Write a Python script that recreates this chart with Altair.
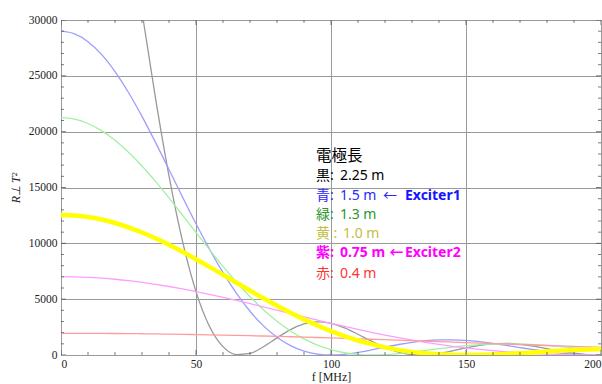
import altair as alt
import pandas as pd

# Frequency grid [MHz]
F_MHZ = list(range(0, 205, 5))

# R_perp * T^2 for each electrode length
L_225 = [63000, 61850, 58480, 53170, 46420, 38750, 30750, 23010, 16040, 10190,
         5680, 2560, 752, 42, 142, 738, 1532, 2271, 2780, 2972,
         2837, 2433, 1862, 1240, 680, 266, 41, 9, 138, 369,
         631, 858, 1002, 1036, 958, 791, 573, 350, 162, 41, 0]
L_150 = [29000, 28760, 28060, 26920, 25380, 23510, 21370, 19040, 16610, 14150,
         11750, 9480, 7380, 5520, 3920, 2610, 1590, 840, 346, 80,
         0, 65, 232, 458, 705, 940, 1138, 1280, 1356, 1363,
         1306, 1193, 1038, 857, 666, 480, 313, 177, 78, 19, 0]
L_130 = [21250, 21120, 20730, 20090, 19230, 18160, 16930, 15550, 14070, 12530,
         10970, 9430, 7930, 6520, 5220, 4050, 3020, 2150, 1440, 880,
         474, 202, 51, 0, 31, 123, 255, 408, 564, 710,
         834, 927, 985, 1005, 988, 934, 854, 753, 640, 520, 401]
L_100 = [12540, 12490, 12360, 12130, 11820, 11440, 10970, 10450, 9870, 9240,
         8580, 7890, 7180, 6470, 5770, 5080, 4420, 3790, 3190, 2640,
         2140, 1700, 1300, 968, 686, 457, 280, 150, 63, 15,
         0, 13, 48, 100, 164, 233, 305, 374, 437, 492, 536]
L_075 = [7010, 6996, 6953, 6882, 6782, 6657, 6507, 6332, 6135, 5916,
         5682, 5431, 5165, 4889, 4603, 4311, 4015, 3718, 3422, 3129,
         2841, 2561, 2290, 2031, 1785, 1552, 1335, 1134, 949, 781,
         632, 499, 383, 285, 203, 136, 84, 45, 19, 5, 0]
L_040 = [1943, 1942, 1938, 1933, 1925, 1915, 1902, 1888, 1871, 1853,
         1832, 1810, 1785, 1758, 1730, 1700, 1669, 1636, 1602, 1566,
         1529, 1491, 1452, 1412, 1371, 1329, 1287, 1244, 1201, 1157,
         1113, 1069, 1025, 981, 938, 894, 851, 809, 767, 725, 685]

THIN_SERIES = ["2.25 m", "1.5 m", "1.3 m", "0.75 m", "0.4 m"]
THIN_VALUES = [L_225, L_150, L_130, L_075, L_040]
THIN_COLORS = ["#999999", "#9d9dff", "#a3f0a3", "#ff9dff", "#ff9d9d"]
THICK_COLOR = "#ffff00"

# Annotation block: each line is split into its colour key, value and pointer
TEXT_FONT = "Noto Sans, Noto Sans CJK JP"
BLACK_T, BLUE_T, GREEN_T = "#000000", "#2a2af5", "#2a962a"
YELLOW_T, MAGENTA_T, RED_T = "#c2c043", "#ff00ff", "#ff3333"
BLUE_B = "#1414ff"

NOTE_TEXT = ["電極長",
             "黒:", "2.25 m",
             "青:", "1.5 m", "←",
             "緑:", "1.3 m",
             "黄 :", "1.0 m",
             "赤:", "0.4 m"]
NOTE_X = [94.4,
          94.4, 103.3,
          94.4, 103.3, 119.3,
          94.4, 103.3,
          94.4, 104.4,
          94.4, 103.3]
NOTE_Y = [17850,
          16000, 16000,
          14240, 14240, 14240,
          12540, 12540,
          10840, 10840,
          7250, 7250]
NOTE_COLOR = [BLACK_T,
              BLACK_T, BLACK_T,
              BLUE_T, BLUE_T, BLUE_T,
              GREEN_T, GREEN_T,
              YELLOW_T, YELLOW_T,
              RED_T, RED_T]
NOTE_SIZE = [15.5] + [14] * 11

BOLD_TEXT = ["Exciter1", "紫:", "0.75 m", "←", "Exciter2"]
BOLD_X = [127.4, 94.4, 103.3, 121.6, 127.4]
BOLD_Y = [14240, 9130, 9130, 9130, 9130]
BOLD_COLOR = [BLUE_B, MAGENTA_T, MAGENTA_T, MAGENTA_T, MAGENTA_T]

X_MAJOR = [0, 50, 100, 150, 200]
X_MINOR = [f for f in range(0, 201, 10) if f % 50]
Y_MAJOR = list(range(0, 30001, 5000))
Y_MINOR = [v for v in range(0, 30001, 1000) if v % 5000]

rows = []
for name, vals in zip(THIN_SERIES, THIN_VALUES):
    for f, v in zip(F_MHZ, vals):
        rows.append({"f": f, "v": v, "s": name})
thin_df = pd.DataFrame(rows)
thick_df = pd.DataFrame({"f": F_MHZ, "v": L_100})

xs = alt.Scale(domain=[0, 200], nice=False, zero=False)
ys = alt.Scale(domain=[0, 30000], nice=False)
FRAME = "#444444"

x_axis = alt.Axis(values=X_MAJOR, title="f [MHz]", grid=True, ticks=False,
                  domain=False, labelPadding=3, titlePadding=2, format="d")
y_axis = alt.Axis(values=Y_MAJOR, title="R⊥ T²", grid=True, ticks=False,
                  domain=False, labelPadding=4, titlePadding=6, format="d",
                  titleFontStyle="italic")

thin = alt.Chart(thin_df).mark_line(clip=True, interpolate="monotone", strokeWidth=1.3).encode(
    x=alt.X("f:Q", scale=xs, axis=x_axis),
    y=alt.Y("v:Q", scale=ys, axis=y_axis),
    color=alt.Color("s:N", scale=alt.Scale(domain=THIN_SERIES, range=THIN_COLORS), legend=None),
)

# 1.0 m curve drawn heavy
thick = alt.Chart(thick_df).mark_line(
    clip=True, interpolate="monotone", strokeWidth=4.5, color=THICK_COLOR
).encode(
    x=alt.X("f:Q", scale=xs),
    y=alt.Y("v:Q", scale=ys),
)

# Inward frame ticks (half of each tick is clipped away by the frame)
def xticks(vals, size, edge):
    return alt.Chart(pd.DataFrame({"f": vals})).mark_tick(
        orient="vertical", size=size, thickness=1, color=FRAME, clip=True
    ).encode(x=alt.X("f:Q", scale=xs), y=alt.Y(datum=edge, scale=ys))

def yticks(vals, size, edge):
    return alt.Chart(pd.DataFrame({"v": vals})).mark_tick(
        orient="horizontal", size=size, thickness=1, color=FRAME, clip=True
    ).encode(y=alt.Y("v:Q", scale=ys), x=alt.X(datum=edge, scale=xs))

ticks = [
    xticks(X_MAJOR, 10, 0), xticks(X_MINOR, 6, 0),
    xticks(X_MAJOR, 10, 30000), xticks(X_MINOR, 6, 30000),
    yticks(Y_MAJOR, 10, 0), yticks(Y_MINOR, 6, 0),
    yticks(Y_MAJOR, 10, 200), yticks(Y_MINOR, 6, 200),
]

notes_df = pd.DataFrame({"t": NOTE_TEXT, "x": NOTE_X, "y": NOTE_Y,
                         "c": NOTE_COLOR, "sz": NOTE_SIZE})
notes = alt.Chart(notes_df).mark_text(
    align="left", baseline="middle", font=TEXT_FONT
).encode(
    x=alt.X("x:Q", scale=xs), y=alt.Y("y:Q", scale=ys), text="t:N",
    color=alt.Color("c:N", scale=None),
    size=alt.Size("sz:Q", scale=None),
)

bold_df = pd.DataFrame({"t": BOLD_TEXT, "x": BOLD_X, "y": BOLD_Y, "c": BOLD_COLOR})
bold = alt.Chart(bold_df).mark_text(
    align="left", baseline="middle", font=TEXT_FONT, fontWeight="bold", fontSize=14
).encode(
    x=alt.X("x:Q", scale=xs), y=alt.Y("y:Q", scale=ys), text="t:N",
    color=alt.Color("c:N", scale=None),
)

chart = alt.layer(thin, thick, *ticks, notes, bold).properties(
    width=540, height=335,
    autosize=alt.AutoSizeParams(type="none"),
    padding={"left": 61, "top": 20, "right": 1, "bottom": 29},
    background="white",
).configure_view(
    stroke=FRAME, strokeWidth=1
).configure_axis(
    labelFont="Liberation Serif", labelFontSize=11.5, labelColor="#222222",
    titleFont="Liberation Serif", titleFontSize=12, titleFontWeight="normal",
    titleColor="#222222", gridColor="#9a9a9a", gridWidth=1, gridOpacity=1,
)

chart.save("out.html", embed_options={"renderer": "svg", "actions": False})
